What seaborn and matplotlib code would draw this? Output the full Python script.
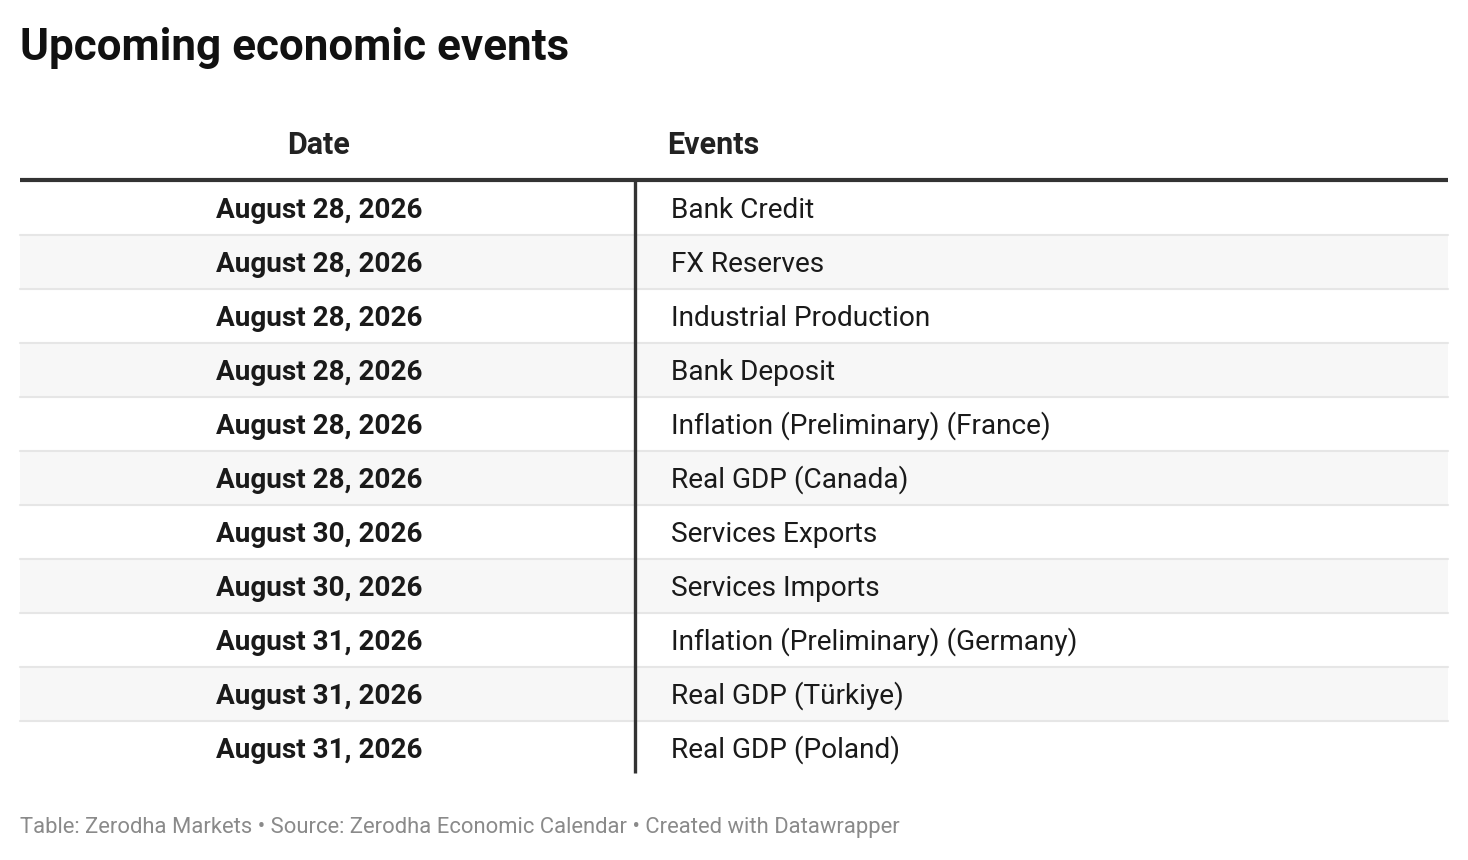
import matplotlib
matplotlib.use("Agg")
import matplotlib.pyplot as plt
import seaborn as sns

# table data
dates = ["August 28, 2026", "August 28, 2026", "August 28, 2026", "August 28, 2026",
         "August 28, 2026", "August 28, 2026", "August 30, 2026", "August 30, 2026",
         "August 31, 2026", "August 31, 2026", "August 31, 2026"]
events = ["Bank Credit", "FX Reserves", "Industrial Production", "Bank Deposit",
          "Inflation (Preliminary) (France)", "Real GDP (Canada)", "Services Exports",
          "Services Imports", "Inflation (Preliminary) (Germany)", "Real GDP (Türkiye)",
          "Real GDP (Poland)"]
headers = ["Date", "Events"]
title = "Upcoming economic events"
footer = "Table: Zerodha Markets • Source: Zerodha Economic Calendar • Created with Datawrapper"

sns.set_theme(style="white")
plt.rcParams['font.family'] = ['Roboto', 'DejaVu Sans']

W, H = 1468, 860
fig = plt.figure(figsize=(W / 100, H / 100), dpi=100)
ax = fig.add_axes([0, 0, 1, 1])
ax.set_xlim(0, W)
ax.set_ylim(H, 0)
ax.axis("off")

left, right = 20, 1448
top = 181
row_h = 54
sep_x = 635
date_x = 319
event_x = 671

# stripes and separators
for i in range(len(dates)):
    y0 = top + i * row_h
    if i % 2 == 1:
        ax.fill_between([left, right], y0, y0 + row_h, color="#f7f7f7", lw=0, zorder=0)
    if i > 0:
        ax.plot([left, right], [y0, y0], color="#e6e6e6", lw=1.5, zorder=1)

n = len(dates)
ax.plot([left, right], [top - 1, top - 1], color="#333333", lw=3, solid_capstyle="butt", zorder=3)
ax.plot([sep_x, sep_x], [top, top + n * row_h - 2], color="#333333", lw=2.4,
        solid_capstyle="butt", zorder=3)

# title, headers
ax.text(20, 48, title, fontsize=31.7, fontweight="bold", color="#111111", va="center", ha="left")
ax.text(date_x, 145, headers[0], fontsize=22, fontweight="bold", color="#222222",
        va="center", ha="center")
ax.text(event_x - 4, 145, headers[1], fontsize=22, fontweight="bold", color="#222222",
        va="center", ha="left")

# body
for i, (d, e) in enumerate(zip(dates, events)):
    yc = top + i * row_h + row_h / 2 + 2
    ax.text(date_x, yc, d, fontsize=20.1, fontweight="bold", color="#1a1a1a",
            va="center", ha="center")
    ax.text(event_x, yc, e, fontsize=20.2, color="#1a1a1a", va="center", ha="left")

ax.text(20, 828, footer, fontsize=15.85, color="#8a8a8a", va="center", ha="left")

fig.savefig("out.png", dpi=100, facecolor="white")
